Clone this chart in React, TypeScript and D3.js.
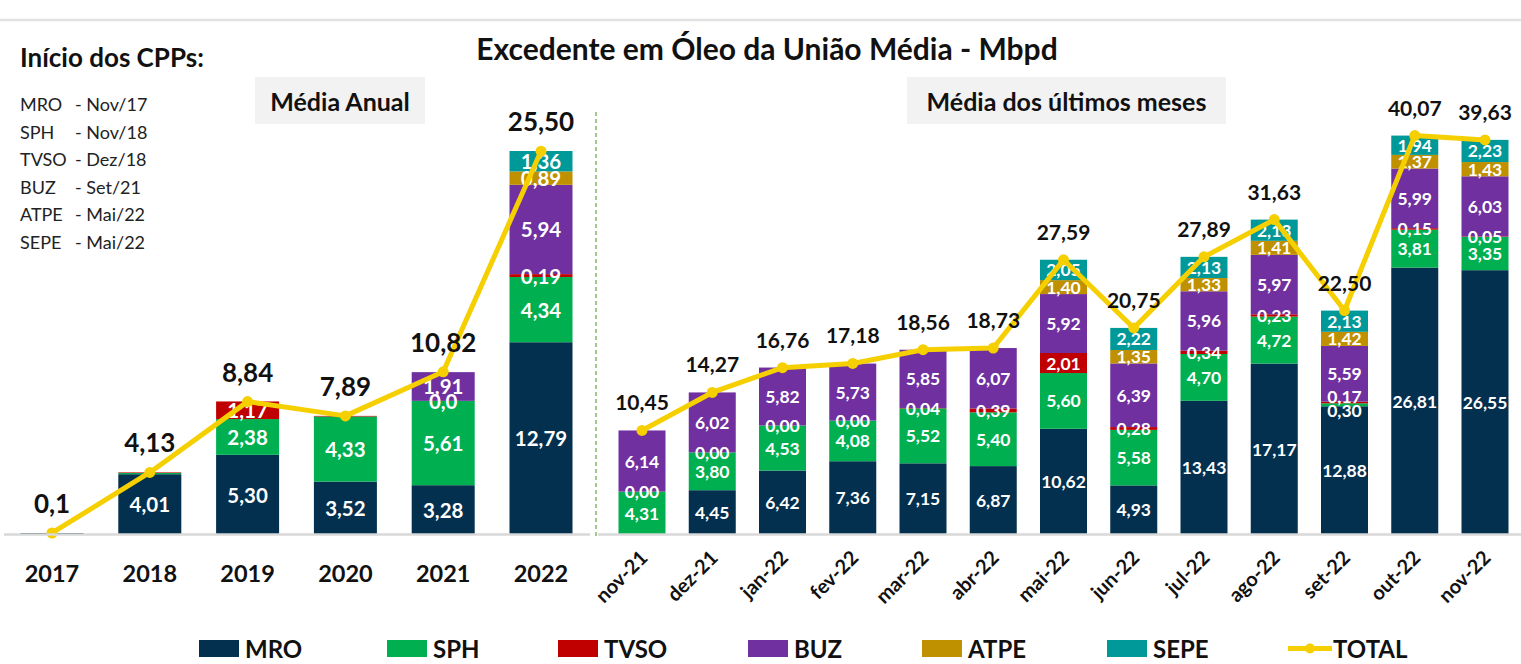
import React, { useEffect, useRef } from 'react';
import * as d3 from 'd3';

// ---------- DATA ----------
const seriesNames = ['MRO', 'SPH', 'TVSO', 'BUZ', 'ATPE', 'SEPE'];
const seriesColors = ['#03304f', '#00b050', '#c00000', '#7030a0', '#bf9000', '#009999'];
const totalName = 'TOTAL';
const totalColor = '#f5cf00';

const years = ['2017', '2018', '2019', '2020', '2021', '2022'];
const yearMRO = [0.1, 4.01, 5.3, 3.52, 3.28, 12.79];
const yearSPH = [null, 0.08, 2.38, 4.33, 5.61, 4.34];
const yearTVSO = [null, 0.04, 1.17, 0.04, 0.0, 0.19];
const yearBUZ = [null, null, null, null, 1.91, 5.94];
const yearATPE = [null, null, null, null, null, 0.89];
const yearSEPE = [null, null, null, null, null, 1.36];
const yearTotal = [0.1, 4.13, 8.84, 7.89, 10.82, 25.5];
const yearHiddenLabels = ['2017|MRO', '2018|SPH', '2018|TVSO', '2020|TVSO'];
const yearLabelText: Record<string, string> = { '2021|TVSO': '0,0', '2017|TOTAL': '0,1' };

const months = ['nov-21', 'dez-21', 'jan-22', 'fev-22', 'mar-22', 'abr-22', 'mai-22', 'jun-22', 'jul-22', 'ago-22', 'set-22', 'out-22', 'nov-22'];
const monthMRO = [null, 4.45, 6.42, 7.36, 7.15, 6.87, 10.62, 4.93, 13.43, 17.17, 12.88, 26.81, 26.55];
const monthSPH = [4.31, 3.8, 4.53, 4.08, 5.52, 5.4, 5.6, 5.58, 4.7, 4.72, 0.3, 3.81, 3.35];
const monthTVSO = [0.0, 0.0, 0.0, 0.0, 0.04, 0.39, 2.01, 0.28, 0.34, 0.23, 0.17, 0.15, 0.05];
const monthBUZ = [6.14, 6.02, 5.82, 5.73, 5.85, 6.07, 5.92, 6.39, 5.96, 5.97, 5.59, 5.99, 6.03];
const monthATPE = [null, null, null, null, null, null, 1.4, 1.35, 1.33, 1.41, 1.42, 1.37, 1.43];
const monthSEPE = [null, null, null, null, null, null, 2.05, 2.22, 2.13, 2.13, 2.13, 1.94, 2.23];
const monthTotal = [10.45, 14.27, 16.76, 17.18, 18.56, 18.73, 27.59, 20.75, 27.89, 31.63, 22.5, 40.07, 39.63];

const title = 'Excedente em Óleo da União Média - Mbpd';
const leftPanelTitle = 'Média Anual';
const rightPanelTitle = 'Média dos últimos meses';
const cppHeader = 'Início dos CPPs:';
const cppNames = ['MRO', 'SPH', 'TVSO', 'BUZ', 'ATPE', 'SEPE'];
const cppDates = ['Nov/17', 'Nov/18', 'Dez/18', 'Set/21', 'Mai/22', 'Mai/22'];

// layout (not data)
const legendX = [199, 387, 558, 748, 922, 1107, 1288];

const FONT = 'Lato, "Open Sans", sans-serif';
const fmt = (v: number) => v.toFixed(2).replace('.', ',');

type Row = { cat: string; [k: string]: any };

function buildRows(cats: string[], cols: (number | null)[][], totals: number[]): Row[] {
  return cats.map((c, i) => {
    const r: Row = { cat: c, total: totals[i] };
    seriesNames.forEach((s, j) => (r[s] = cols[j][i]));
    return r;
  });
}

export default function App() {
  const ref = useRef<SVGSVGElement>(null);

  useEffect(() => {
    const svg = d3.select(ref.current);
    svg.selectAll('*').remove();
    const W = 1521;
    const base = 534.5;

    svg.append('line').attr('x1', 0).attr('x2', W).attr('y1', 20).attr('y2', 20)
      .attr('stroke', '#e2e2e2').attr('stroke-width', 2.5);

    svg.append('text').attr('x', 767).attr('y', 60).attr('text-anchor', 'middle')
      .attr('font-family', FONT).attr('font-weight', 700).attr('font-size', 30).attr('fill', '#111')
      .text(title);

    svg.append('text').attr('x', 20).attr('y', 67).attr('font-family', FONT).attr('font-weight', 700)
      .attr('font-size', 26).attr('fill', '#111').text(cppHeader);
    cppNames.forEach((n, i) => {
      const y = 111 + i * 27.5;
      svg.append('text').attr('x', 20).attr('y', y).attr('font-family', FONT).attr('font-size', 18)
        .attr('fill', '#222').text(n);
      svg.append('text').attr('x', 75).attr('y', y).attr('font-family', FONT).attr('font-size', 18)
        .attr('fill', '#222').text('- ' + cppDates[i]);
    });

    const panelBox = (x0: number, x1: number, label: string) => {
      svg.append('rect').attr('x', x0).attr('y', 77).attr('width', x1 - x0).attr('height', 47).attr('fill', '#f2f2f2');
      svg.append('text').attr('x', (x0 + x1) / 2).attr('y', 101).attr('text-anchor', 'middle')
        .attr('dominant-baseline', 'central').attr('font-family', FONT).attr('font-weight', 700)
        .attr('font-size', 25).attr('fill', '#111').text(label);
    };
    panelBox(255, 425, leftPanelTitle);
    panelBox(907, 1226, rightPanelTitle);

    svg.append('line').attr('x1', 596).attr('x2', 596).attr('y1', 112).attr('y2', 537)
      .attr('stroke', '#70ad47').attr('stroke-width', 1.3).attr('stroke-dasharray', '4 3');

    const drawPanel = (opts: {
      rows: Row[]; cats: string[]; x0: number; x1: number; bw: number; yMax: number; height: number;
      segFont: number; totFont: number; totOffset: number; minGap: number; hidden: string[];
      overrides: Record<string, string>;
      axis: (g: any, x: d3.ScalePoint<string>) => void;
    }) => {
      const x = d3.scalePoint<string>().domain(opts.cats).range([opts.x0, opts.x1]);
      const y = d3.scaleLinear().domain([0, opts.yMax]).range([base, base - opts.height]);
      const stack = d3.stack<Row>().keys(seriesNames).value((d, k) => (d[k] == null ? 0 : d[k]));
      const layers = stack(opts.rows);
      const g = svg.append('g');
      layers.forEach((layer, li) => {
        layer.forEach((seg) => {
          const cx = x(seg.data.cat)!;
          const y0 = y(seg[0]);
          const y1 = y(seg[1]);
          if (y0 - y1 > 0) {
            g.append('rect').attr('x', cx - opts.bw / 2).attr('y', y1).attr('width', opts.bw)
              .attr('height', y0 - y1).attr('fill', seriesColors[li]);
          }
        });
      });
      // segment labels, spread apart when two would overlap
      opts.rows.forEach((row, ri) => {
        const labs: { y: number; t: string }[] = [];
        layers.forEach((layer, li) => {
          const key = seriesNames[li];
          const v = row[key];
          const id = row.cat + '|' + key;
          if (v == null || opts.hidden.includes(id)) return;
          const seg = layer[ri];
          labs.push({ y: (y(seg[0]) + y(seg[1])) / 2, t: opts.overrides[id] ?? fmt(v) });
        });
        for (let i = 1; i < labs.length; i++) {
          const gap = labs[i - 1].y - labs[i].y;
          if (gap < opts.minGap) {
            const d = (opts.minGap - gap) / 2;
            labs[i - 1].y += d;
            labs[i].y -= d;
          }
        }
        labs.forEach((l) => {
          g.append('text').attr('x', x(row.cat)!).attr('y', l.y).attr('text-anchor', 'middle')
            .attr('dominant-baseline', 'central').attr('font-family', FONT).attr('font-weight', 700)
            .attr('font-size', opts.segFont).attr('fill', '#fff').text(l.t);
        });
      });
      const line = d3.line<Row>().x((d) => x(d.cat)!).y((d) => y(d.total));
      g.append('path').datum(opts.rows).attr('d', line).attr('fill', 'none').attr('stroke', totalColor)
        .attr('stroke-width', 5).attr('stroke-linejoin', 'round').attr('stroke-linecap', 'round');
      opts.rows.forEach((d) => {
        g.append('circle').attr('cx', x(d.cat)!).attr('cy', y(d.total)).attr('r', 5.5).attr('fill', totalColor);
        g.append('text').attr('x', x(d.cat)!).attr('y', y(d.total) - opts.totOffset).attr('text-anchor', 'middle')
          .attr('dominant-baseline', 'central').attr('font-family', FONT).attr('font-weight', 700)
          .attr('font-size', opts.totFont).attr('fill', '#111')
          .text(opts.overrides[d.cat + '|TOTAL'] ?? fmt(d.total));
      });
      opts.axis(g, x);
    };

    const yearCols = [yearMRO, yearSPH, yearTVSO, yearBUZ, yearATPE, yearSEPE];
    drawPanel({
      rows: buildRows(years, yearCols, yearTotal), cats: years, x0: 52, x1: 541, bw: 63,
      yMax: 30, height: 451, segFont: 20.5, totFont: 26, totOffset: 30, minGap: 15,
      hidden: yearHiddenLabels, overrides: yearLabelText,
      axis: (g, x) => {
        years.forEach((c) => {
          g.append('text').attr('x', x(c)!).attr('y', 573).attr('text-anchor', 'middle')
            .attr('dominant-baseline', 'central').attr('font-family', FONT).attr('font-weight', 700)
            .attr('font-size', 23.5).attr('fill', '#111').text(c);
        });
      },
    });

    const monthCols = [monthMRO, monthSPH, monthTVSO, monthBUZ, monthATPE, monthSEPE];
    drawPanel({
      rows: buildRows(months, monthCols, monthTotal), cats: months, x0: 642, x1: 1485, bw: 47,
      yMax: 45, height: 448, segFont: 17.5, totFont: 21, totOffset: 28.5, minGap: 14,
      hidden: [], overrides: {},
      axis: (g, x) => {
        months.forEach((c) => {
          const ax = x(c)! + 7;
          const ay = 559;
          g.append('text').attr('x', ax).attr('y', ay).attr('text-anchor', 'end')
            .attr('transform', `rotate(-45 ${ax} ${ay})`)
            .attr('font-family', FONT).attr('font-weight', 700).attr('font-size', 20).attr('fill', '#111').text(c);
        });
      },
    });

    // axis baselines (drawn over bar bottoms)
    svg.append('line').attr('x1', 4).attr('x2', 590).attr('y1', base).attr('y2', base)
      .attr('stroke', '#d9d9d9').attr('stroke-width', 2.6);
    svg.append('line').attr('x1', 598).attr('x2', W).attr('y1', base).attr('y2', base)
      .attr('stroke', '#d9d9d9').attr('stroke-width', 2.6);
    // line markers of the 2017 point stay visible above the baseline
    svg.selectAll('circle').raise();

    // legend
    const leg = svg.append('g');
    const ly = 648.5;
    const items = [...seriesNames, totalName];
    items.forEach((name, i) => {
      const lx = legendX[i];
      if (i < seriesNames.length) {
        leg.append('rect').attr('x', lx).attr('y', ly - 8.5).attr('width', 40).attr('height', 17).attr('fill', seriesColors[i]);
      } else {
        leg.append('line').attr('x1', lx).attr('x2', lx + 44).attr('y1', ly).attr('y2', ly)
          .attr('stroke', totalColor).attr('stroke-width', 5);
        leg.append('circle').attr('cx', lx + 22).attr('cy', ly).attr('r', 5).attr('fill', totalColor);
      }
      leg.append('text').attr('x', lx + (i < seriesNames.length ? 46 : 45)).attr('y', ly).attr('dominant-baseline', 'central')
        .attr('font-family', FONT).attr('font-weight', 700).attr('font-size', 24).attr('fill', '#111').text(name);
    });
  }, []);

  return (
    <svg ref={ref} width={1521} height={664}
      style={{ position: 'absolute', left: 0, top: 0, background: '#fff' }} />
  );
}
